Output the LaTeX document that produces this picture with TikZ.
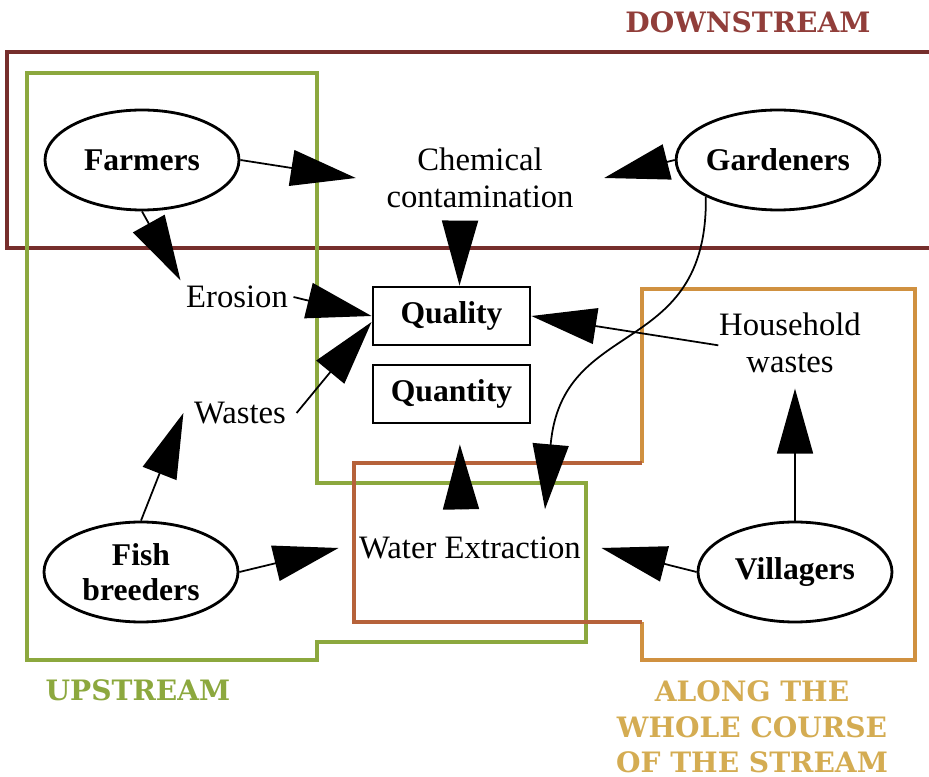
\documentclass[tikz,border=0pt]{standalone}
\usepackage{fontspec}
\setmainfont{Liberation Serif}
\newfontfamily\zonefont{DejaVu Serif}
\usetikzlibrary{positioning}
\usetikzlibrary{arrows.meta}
\usetikzlibrary{shapes.geometric}
\definecolor{DownRed}{RGB}{118,46,44}
\definecolor{DownText}{RGB}{145,62,58}
\definecolor{UpGreen}{RGB}{140,168,62}
\definecolor{AlongOrange}{RGB}{208,145,64}
\definecolor{AlongBrown}{RGB}{182,98,58}
\definecolor{AlongText}{RGB}{212,172,82}

\begin{document}
\begin{tikzpicture}[>={Triangle[length=6.5mm,width=3.6mm]},
  actor/.style={ellipse, draw, line width=0.8pt, minimum width=19.4mm, minimum height=10mm,
    inner sep=0pt, align=center, font=\bfseries\fontsize{9}{10}\selectfont},
  issue/.style={align=center, font=\fontsize{9.3}{10.5}\selectfont},
  target/.style={draw, line width=0.8pt, minimum width=15.7mm, minimum height=5.8mm,
    font=\bfseries\fontsize{9}{10}\selectfont},
  zone/.style={line width=1.1pt},
  zonelabel/.style={align=center, inner sep=0pt, font=\zonefont\bfseries\fontsize{8}{10.1}\selectfont},
  link/.style={->, line width=0.5pt}]

\useasboundingbox (0,0) rectangle (9.29,-7.77);

\draw[zone, DownRed] (9.29,-0.52) -- (0.07,-0.52) -- (0.07,-2.48) -- (9.29,-2.48);
\draw[zone, UpGreen] (0.27,-0.73) -- (3.17,-0.73) -- (3.17,-4.83) -- (5.86,-4.83) -- (5.86,-6.42)
  -- (3.17,-6.42) -- (3.17,-6.60) -- (0.27,-6.60) -- cycle;
\draw[zone, AlongOrange] (6.42,-4.63) -- (6.42,-2.89) -- (9.15,-2.89) -- (9.15,-6.60)
  -- (6.42,-6.60) -- (6.42,-6.22);
\draw[zone, AlongBrown] (6.42,-4.63) -- (3.54,-4.63) -- (3.54,-6.22) -- (6.42,-6.22);

\node[zonelabel, DownText] (down) at (7.48,-0.22) {DOWNSTREAM};
\node[zonelabel, UpGreen] (up) at (1.38,-6.90) {UPSTREAM};
\node[zonelabel, AlongText, anchor=north] (along) at (7.52,-6.80) {ALONG THE\\WHOLE COURSE\\OF THE STREAM};

\node[actor] (farm) at (1.42,-1.60) {Farmers};
\node[actor] (gard) at (7.78,-1.60) {Gardeners};
\node[actor] (fish) at (1.41,-5.72) {Fish\\breeders};
\node[actor] (vill) at (7.95,-5.72) {Villagers};

\node[issue, inner xsep=3mm, inner ysep=1.5mm] (chem) at (4.80,-1.78) {Chemical\\contamination};
\node[issue, inner sep=0.5mm] (eros) at (2.37,-2.97) {Erosion};
\node[issue, inner sep=1mm] (wast) at (2.40,-4.13) {Wastes};
\node[issue, inner xsep=1.5mm, inner ysep=1.5mm] (house) at (7.90,-3.43) {Household\\wastes};
\node[issue, inner xsep=2mm, inner ysep=2.7mm] (water) at (4.70,-5.48) {Water Extraction};
\node[target] (qual) at (4.515,-3.16) {Quality};
\node[target] (quan) at (4.515,-3.94) {Quantity};

\draw[link] (farm.east) -- (chem.west);
\draw[link] (gard.west) -- (chem.east);
\draw[link] ([xshift=-2mm]chem.south) -- ([xshift=0.8mm]qual.north);
\draw[link] (farm.south) -- (eros.north west);
\draw[link] (eros.east) -- (qual.west);
\draw[link] (wast.east) -- ([yshift=-0.6mm]qual.west);
\draw[link] (fish.north) -- (wast.west);
\draw[link] (fish.east) -- (water.west);
\draw[link] (vill.west) -- (water.east);
\draw[link] (vill.north) -- (vill.north |- house.south);
\draw[link, shorten <=-1.5mm] (house.west) -- (qual.east);
\draw[link, shorten >=2mm] ([xshift=-0.9mm]water.north) -- ([xshift=0.8mm]quan.south);
\draw[link] (gard.207) .. controls (7.08,-3.60) and (5.62,-3.15) .. ([xshift=7.5mm]water.north);

\end{tikzpicture}
\end{document}
